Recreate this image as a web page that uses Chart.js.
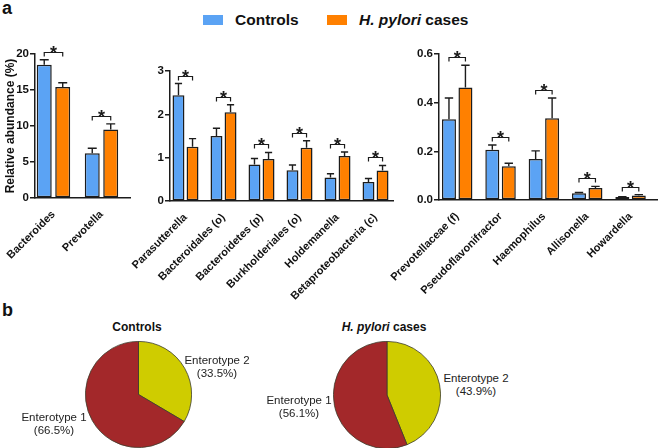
<!DOCTYPE html>
<html>
<head>
<meta charset="utf-8">
<script src="https://cdn.jsdelivr.net/npm/chart.js@4.4.0/dist/chart.umd.min.js"></script>
<style>
  body { margin: 0; width: 658px; height: 448px; position: relative; overflow: hidden; background: #fff;
         font-family: "Liberation Sans", Arial, sans-serif; color: #111; }
  canvas { position: absolute; }
  .t { position: absolute; white-space: nowrap; }
  .panel { font-weight: bold; font-size: 18px; }
  .leg { font-weight: bold; font-size: 15.5px; transform: translateY(-50%); }
  .box { position: absolute; width: 20px; height: 10px; }
  .ptitle { font-weight: bold; font-size: 12px; transform: translate(-50%, -50%); }
  .plab { font-size: 11.5px; line-height: 12.5px; text-align: center; color: #222; transform: translate(-50%, -50%); }
</style>
</head>
<body>
<div class="t panel" style="left:2px;top:-2px">a</div>
<div class="t panel" style="left:2px;top:300px">b</div>

<div class="box" style="left:203px;top:15px;background:#5ba3f4"></div>
<div class="t leg" style="left:235px;top:20px">Controls</div>
<div class="box" style="left:327px;top:15px;background:#ff8000"></div>
<div class="t leg" style="left:359px;top:20px"><i>H. pylori</i> cases</div>

<canvas id="barA1" width="135" height="300" style="left:0;top:0"></canvas>
<canvas id="barA2" width="275" height="300" style="left:120px;top:0"></canvas>
<canvas id="barA3" width="278" height="300" style="left:380px;top:0"></canvas>

<div class="t ptitle" style="left:137px;top:327px">Controls</div>
<div class="t ptitle" style="left:384px;top:327px"><i>H. pylori</i> cases</div>
<canvas id="pieCtrl" width="107" height="107" style="left:85px;top:341px"></canvas>
<canvas id="piePyl" width="108" height="108" style="left:333px;top:341px"></canvas>
<div class="t plab" id="labC2" style="left:217px;top:366px"></div>
<div class="t plab" id="labC1" style="left:54px;top:423px"></div>
<div class="t plab" id="labP2" style="left:476px;top:384px"></div>
<div class="t plab" id="labP1" style="left:299px;top:406px"></div>

<script>
const blue = "#5ba3f4";
const orange = "#ff8000";
const edge = "#1c1c1c";
const red = "#a3282a";
const yellow = "#cfcc00";
const fam = "'Liberation Sans', Arial, sans-serif";
Chart.defaults.font.family = fam;

// panel a, genera (%)
const catsA1 = ["Bacteroides", "Prevotella"];
const ctrlA1 = [18.5, 6.2];
const ctrlSemA1 = [0.7, 0.7];
const pylA1 = [15.4, 9.5];
const pylSemA1 = [0.6, 0.8];

const catsA2 = ["Parasutterella", "Bacteroidales (o)", "Bacteroidetes (p)", "Burkholderiales (o)", "Holdemanella", "Betaproteobacteria (c)"];
const ctrlA2 = [2.44, 1.5, 0.84, 0.71, 0.545, 0.44];
const ctrlSemA2 = [0.27, 0.18, 0.14, 0.12, 0.085, 0.08];
const pylA2 = [1.25, 2.05, 0.97, 1.23, 1.04, 0.705];
const pylSemA2 = [0.19, 0.17, 0.15, 0.16, 0.09, 0.115];

const catsA3 = ["Prevotellaceae (f)", "Pseudoflavonifractor", "Haemophilus", "Allisonella", "Howardella"];
const ctrlA3 = [0.332, 0.206, 0.168, 0.028, 0.012];
const ctrlSemA3 = [0.087, 0.02, 0.034, 0.003, 0.002];
const pylA3 = [0.462, 0.139, 0.336, 0.049, 0.019];
const pylSemA3 = [0.092, 0.012, 0.083, 0.007, 0.003];

// panel b, enterotypes (%)
const pieLabels = ["Enterotype 2", "Enterotype 1"];
const pieCtrl = [33.5, 66.5];
const piePyl = [43.9, 56.1];

// error bars (upward only) plus significance brackets
const errorAndStars = {
  id: "errorAndStars",
  afterDatasetsDraw(chart, args, opts) {
    const ctx = chart.ctx;
    const y = chart.scales.y;
    const tops = [];
    ctx.save();
    ctx.strokeStyle = edge;
    ctx.lineWidth = 1.4;
    chart.data.datasets.forEach((ds, d) => {
      chart.getDatasetMeta(d).data.forEach((bar, i) => {
        const ey = y.getPixelForValue(ds.data[i].y + opts.sems[d][i]);
        const cap = bar.width * 0.3;
        ctx.beginPath();
        ctx.moveTo(bar.x, bar.y);
        ctx.lineTo(bar.x, ey);
        ctx.moveTo(bar.x - cap, ey);
        ctx.lineTo(bar.x + cap, ey);
        ctx.stroke();
        tops[i] = Math.min(tops[i] ?? Infinity, ey);
      });
    });
    const m0 = chart.getDatasetMeta(0), m1 = chart.getDatasetMeta(1);
    ctx.font = "bold 18px " + fam;
    ctx.textAlign = "center";
    ctx.fillStyle = edge;
    ctx.lineWidth = 1.2;
    m0.data.forEach((b0, i) => {
      const b1 = m1.data[i];
      const by = Math.round(tops[i] - 8) + 0.5;
      ctx.beginPath();
      ctx.moveTo(b0.x, by + 4);
      ctx.lineTo(b0.x, by);
      ctx.lineTo(b1.x, by);
      ctx.lineTo(b1.x, by + 4);
      ctx.stroke();
      ctx.fillText("*", (b0.x + b1.x) / 2, by + 6);
    });
    ctx.restore();
  }
};

function makeBar(id, cats, ctrl, ctrlSem, pyl, pylSem, o) {
  const toXY = arr => arr.map((v, i) => ({ x: i, y: v }));
  const tickFont = { family: fam, size: 11, weight: "bold" };
  new Chart(document.getElementById(id), {
    type: "bar",
    data: {
      datasets: [
        { label: "Controls", data: toXY(ctrl), backgroundColor: blue, borderColor: edge, borderWidth: 1.5, borderSkipped: false },
        { label: "H. pylori cases", data: toXY(pyl), backgroundColor: orange, borderColor: edge, borderWidth: 1.5, borderSkipped: false }
      ]
    },
    options: {
      responsive: false,
      animation: false,
      categoryPercentage: o.catPct,
      barPercentage: o.barPct,
      layout: { padding: { top: o.top, right: o.right, left: 0, bottom: 0 } },
      plugins: {
        legend: { display: false },
        tooltip: { enabled: false },
        errorAndStars: { sems: [ctrlSem, pylSem] }
      },
      scales: {
        x: {
          type: "linear",
          min: o.xmin,
          max: o.xmax,
          offset: false,
          grid: { display: false, offset: false },
          border: { color: edge, width: 1.5 },
          ticks: {
            stepSize: 1, includeBounds: false, autoSkip: false,
            minRotation: 45, maxRotation: 45, padding: 2,
            color: "#111", font: tickFont,
            callback: v => {
              const k = Math.round(v);
              return Math.abs(v - k) < 1e-6 && cats[k] ? cats[k] : "";
            }
          },
          afterFit: s => { s.height = o.xh; s.paddingLeft = 0; s.paddingRight = 0; }
        },
        y: {
          min: 0,
          max: o.ymax,
          ticks: { stepSize: o.step, padding: 1, color: "#111", font: { family: fam, size: 11.5, weight: "bold" }, callback: o.fmt },
          grid: { drawOnChartArea: false, tickLength: 5, color: edge, lineWidth: 1.5 },
          border: { color: edge, width: 1.5 },
          title: o.title
            ? { display: true, text: o.title, color: "#111", font: { family: fam, size: 12, weight: "bold" }, padding: { top: 3, bottom: 0 } }
            : { display: false },
          afterFit: s => { s.width = o.yw; s.paddingTop = 0; s.paddingBottom = 0; }
        }
      }
    },
    plugins: [errorAndStars]
  });
}

makeBar("barA1", catsA1, ctrlA1, ctrlSemA1, pylA1, pylSemA1, {
  top: 54, right: 5, yw: 35, xh: 102, xmin: -0.385, xmax: 1.594,
  catPct: 0.77, barPct: 0.81, ymax: 20, step: 5, fmt: v => v,
  title: "Relative abundance (%)"
});
makeBar("barA2", catsA2, ctrlA2, ctrlSemA2, pylA2, pylSemA2, {
  top: 71, right: 2, yw: 50, xh: 99, xmin: -0.408, xmax: 5.46,
  catPct: 0.74, barPct: 0.85, ymax: 3, step: 1, fmt: v => v
});
makeBar("barA3", catsA3, ctrlA3, ctrlSemA3, pylA3, pylSemA3, {
  top: 54, right: 1, yw: 59, xh: 100, xmin: -0.42, xmax: 4.61,
  catPct: 0.76, barPct: 0.85, ymax: 0.6, step: 0.2, fmt: v => v.toFixed(1)
});

function makePie(id, vals) {
  new Chart(document.getElementById(id), {
    type: "pie",
    data: {
      labels: pieLabels,
      datasets: [{ data: vals, backgroundColor: [yellow, red], borderColor: "#3c3c2c", borderWidth: 0.8 }]
    },
    options: {
      responsive: false,
      animation: false,
      layout: { padding: 0 },
      plugins: { legend: { display: false }, tooltip: { enabled: false } }
    }
  });
}
makePie("pieCtrl", pieCtrl);
makePie("piePyl", piePyl);

const lab = (name, v) => name + "<br>(" + v.toFixed(1) + "%)";
document.getElementById("labC2").innerHTML = lab(pieLabels[0], pieCtrl[0]);
document.getElementById("labC1").innerHTML = lab(pieLabels[1], pieCtrl[1]);
document.getElementById("labP2").innerHTML = lab(pieLabels[0], piePyl[0]);
document.getElementById("labP1").innerHTML = lab(pieLabels[1], piePyl[1]);
</script>
</body>
</html>
